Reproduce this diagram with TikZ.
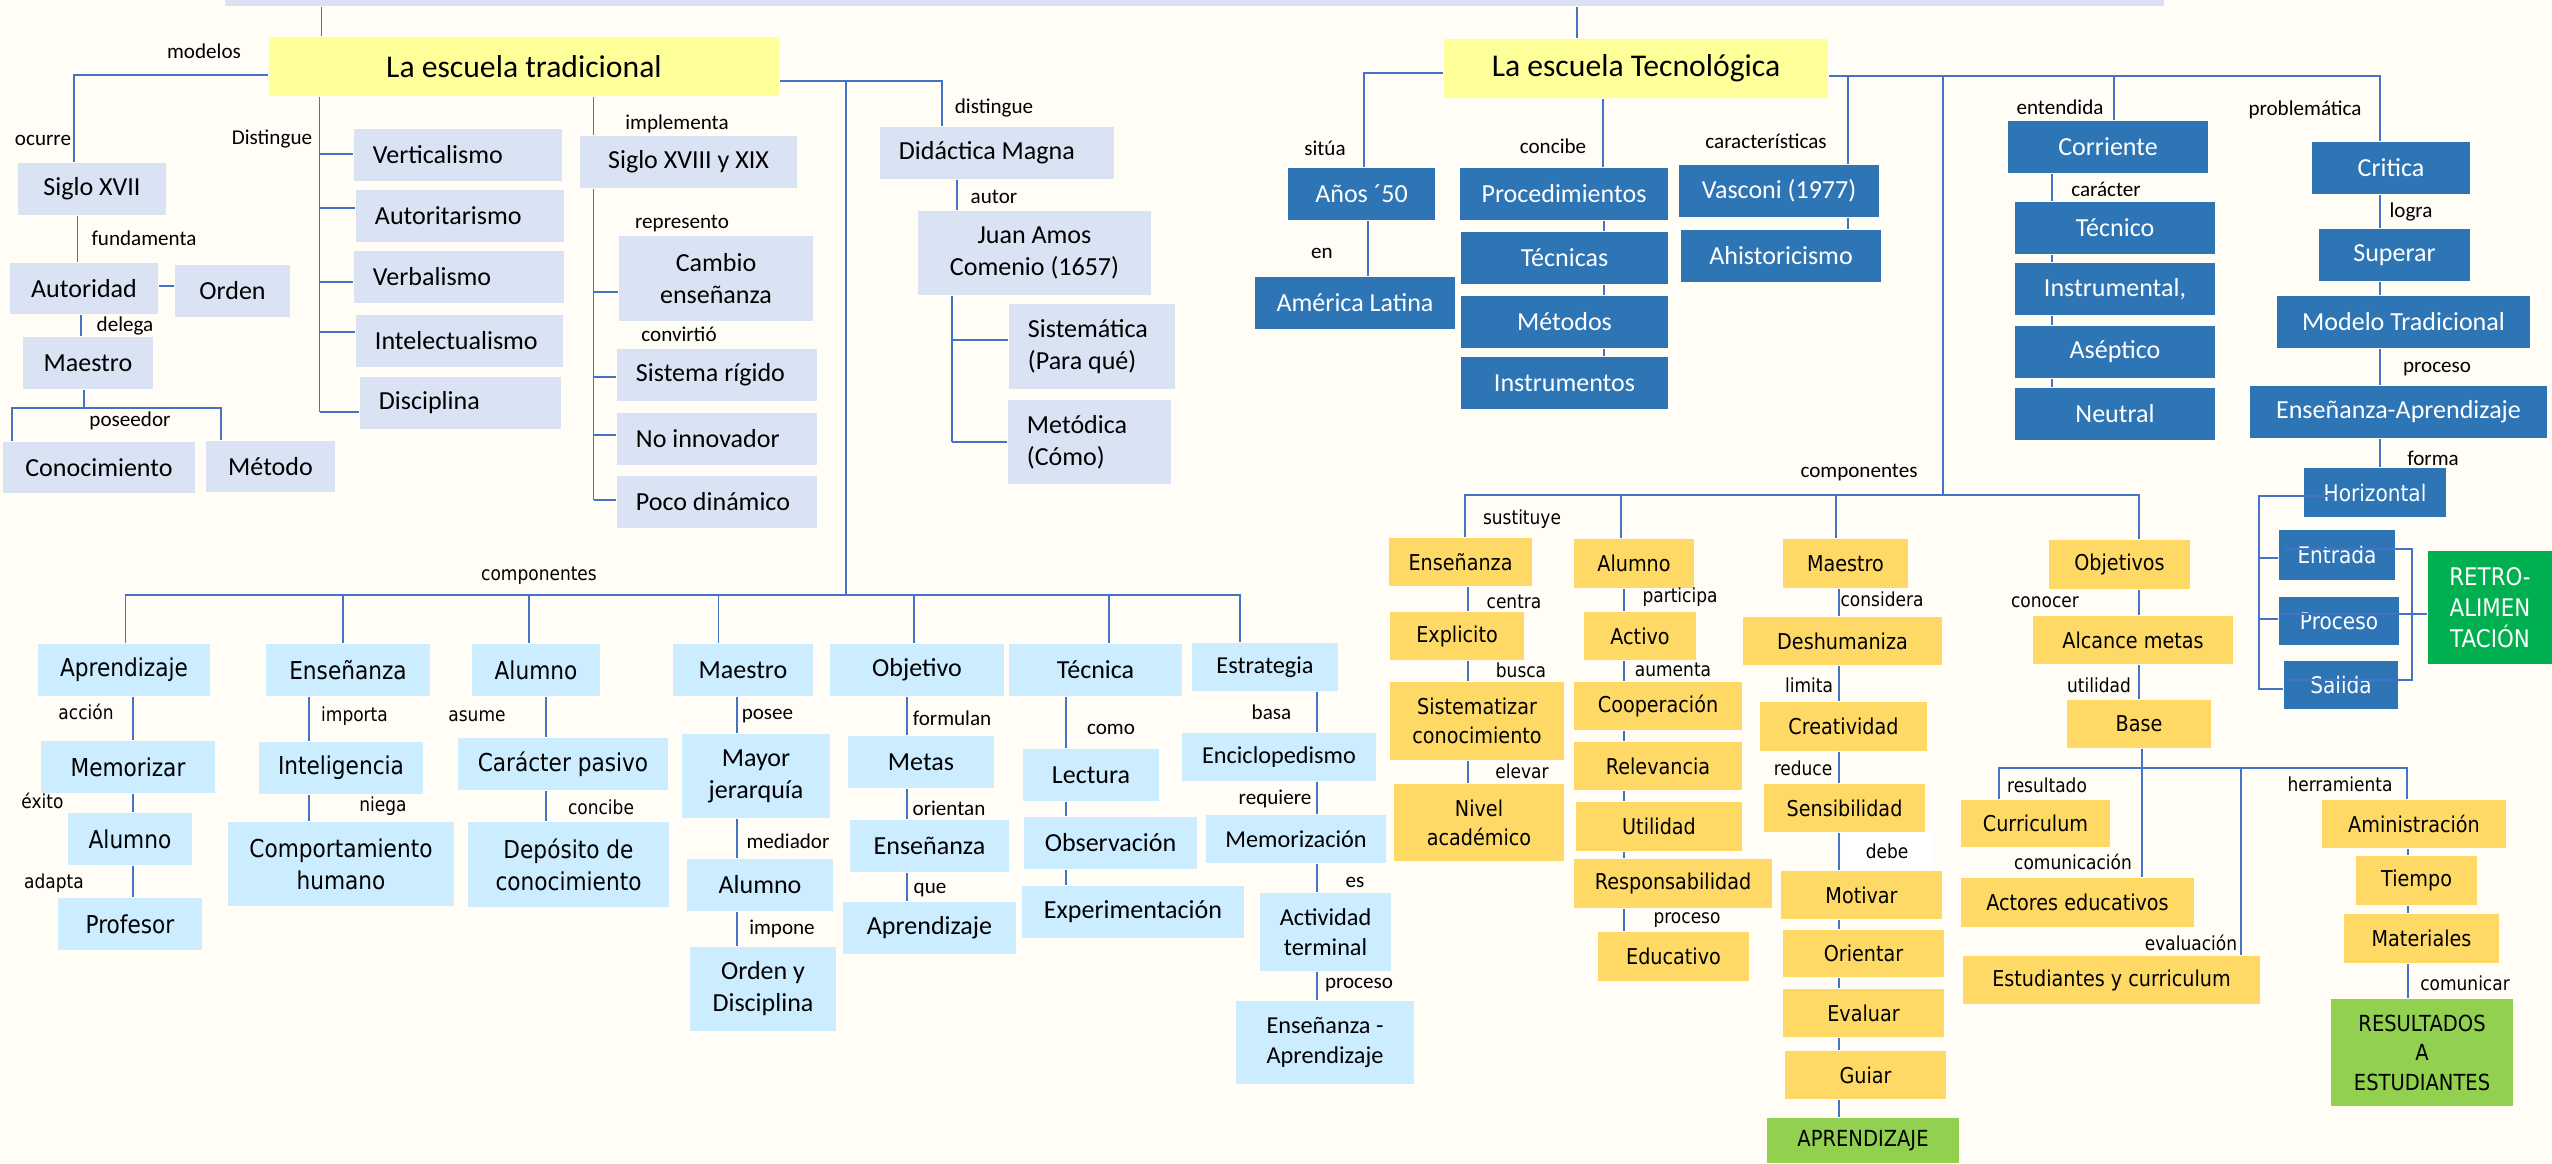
\documentclass[tikz,border=0pt]{standalone}
\usepackage{fontspec}
\newfontfamily\fcal{Carlito}
\newfontfamily\fver[FakeStretch=0.88]{DejaVu Sans}

\definecolor{bgcol}{RGB}{255,253,246}
\definecolor{linecol}{RGB}{68,114,196}
\definecolor{tradfill}{RGB}{218,227,243}
\definecolor{titfill}{RGB}{255,255,153}
\definecolor{tecfill}{RGB}{46,117,182}
\definecolor{compfill}{RGB}{204,236,255}
\definecolor{yelfill}{RGB}{255,217,102}
\definecolor{grnfill}{RGB}{146,208,80}
\definecolor{retrofill}{RGB}{0,176,80}

\tikzset{
  ln/.style={draw=linecol, line width=0.5pt},
  title/.style={fill=titfill, font=\fcal\fontsize{9}{11}\selectfont, minimum height=0.59cm, inner sep=0pt},
  tbox/.style={fill=tradfill, font=\fcal\fontsize{7.4}{9.1}\selectfont, minimum height=0.52cm, inner sep=0pt, align=center},
  tboxl/.style={tbox, inner xsep=0.19cm, align=flush left, text width=#1},
  cbox/.style={fill=compfill, font=\fver\fontsize{7}{9}\selectfont, minimum height=0.52cm, inner sep=0pt, align=center},
  cboxc/.style={cbox, font=\fcal\fontsize{7.4}{9.1}\selectfont},
  cboxe/.style={cbox, font=\fcal\fontsize{6.9}{8.6}\selectfont, minimum height=0.48cm},
  bbox/.style={fill=tecfill, text=white, font=\fcal\fontsize{7.4}{9}\selectfont, minimum height=0.52cm, inner sep=0pt},
  bboxv/.style={bbox, font=\fver\fontsize{6.5}{8}\selectfont},
  ybox/.style={fill=yelfill, font=\fver\fontsize{6.2}{8.2}\selectfont, minimum height=0.48cm, inner sep=0pt, align=center},
  gbox/.style={fill=grnfill, font=\fver\fontsize{6.3}{8.4}\selectfont, inner sep=0pt, align=center},
  labc/.style={font=\fcal\fontsize{6}{7}\selectfont, inner sep=0.5pt},
  labv/.style={font=\fver\fontsize{5.5}{6.5}\selectfont, inner sep=0.5pt}
}

\begin{document}
\begin{tikzpicture}[x=0.01cm, y=-0.01cm]
\fill[bgcol] (0,0) rectangle (2552,1163);
\useasboundingbox (0,0) rectangle (2552,1163);

% titles
\node[fill=tradfill, inner sep=0pt, minimum width=19.37cm, minimum height=0.06cm] (top) at (1194.5,3) {};
\node[title, minimum width=5.10cm] (trad) at (524,66.5) {La escuela tradicional};
\node[title, minimum width=3.84cm] (tecno) at (1636,68.5) {La escuela Tecnológica};

% escuela tradicional
\node[tbox, minimum width=1.48cm] (sxvii) at (92,189) {Siglo XVII};
\node[tbox, minimum width=1.48cm, minimum height=0.51cm] (autoridad) at (84,288.5) {Autoridad};
\node[tbox, minimum width=1.15cm] (orden) at (232.5,291) {Orden};
\node[tbox, minimum width=1.30cm] (maestro) at (88,363) {Maestro};
\node[tbox, minimum width=1.92cm, minimum height=0.51cm] (conoc) at (99,467.5) {Conocimiento};
\node[tbox, minimum width=1.29cm, minimum height=0.51cm] (metodo) at (270.5,466.5) {Método};
\node[tboxl=1.70cm] (vertic) at (458,155) {Verticalismo};
\node[tboxl=1.70cm] (autorit) at (460,216) {Autoritarismo};
\node[tboxl=1.72cm] (verbal) at (459,277) {Verbalismo};
\node[tboxl=1.69cm] (intelec) at (459.5,341) {Intelectualismo};
\node[tboxl=1.63cm] (discip) at (460.5,403) {Disciplina};
\node[tbox, minimum width=2.17cm] (sxviii) at (688.5,162) {Siglo XVIII y XIX};
\node[tbox, minimum width=1.94cm, minimum height=0.85cm] (cambio) at (716,278.5) {Cambio\\enseñanza};
\node[tboxl=1.62cm] (rigido) at (717,375) {Sistema rígido};
\node[tboxl=1.62cm] (noinnov) at (717,439) {No innovador};
\node[tboxl=1.62cm] (poco) at (717,502) {Poco dinámico};
\node[tboxl=1.96cm] (didac) at (997,153) {Didáctica Magna};
\node[tbox, minimum width=2.33cm, minimum height=0.84cm] (comenio) at (1034.5,253) {Juan Amos\\Comenio (1657)};
\node[tboxl=1.28cm, minimum height=0.85cm] (sistem) at (1092,346.5) {Sistemática\\(Para qué)};
\node[tboxl=1.25cm, minimum height=0.84cm] (metod) at (1089.5,442) {Metódica\\(Cómo)};

\node[labc] (lmodelos) at (204,51) {modelos};
\node[labc] (locurre) at (43,140) {ocurre};
\node[labc] (lfund) at (144,238) {fundamenta};
\node[labc] (ldelega) at (125,326) {delega};
\node[labc] (lposeedor) at (130,421) {poseedor};
\node[labc] (ldist) at (272,139) {Distingue};
\node[labc] (limpl) at (677,124) {implementa};
\node[labc] (lrepr) at (682,224) {represento};
\node[labc] (lconv) at (679,334) {convirtió};
\node[labc] (ldist2) at (994,108) {distingue};
\node[labc] (lautor) at (994,197) {autor};

\draw[ln] (top.south -| 321.5,0) -- (trad.north -| 321.5,0);
\draw[ln] (trad.west |- 0,75) -| (sxvii.north -| 74,0);
\draw[ln] (sxvii.south -| 77.5,0) -- (autoridad.north -| 77.5,0);
\draw[ln] (autoridad.east |- 0,286) -- (orden.west |- 0,286);
\draw[ln] (autoridad.south -| 81,0) -- (maestro.north -| 81,0);
\coordinate (jpos) at (84,408);
\draw[ln] (maestro.south -| jpos) -- (jpos);
\draw[ln] (conoc.north -| 12,0) |- (221,408) -- (metodo.north -| 221,0);
\draw[ln] (trad.south -| 319.5,0) -- (319.5,412);
\foreach \n/\y in {vertic/154, autorit/208, verbal/282, intelec/332, discip/412}
  \draw[ln] (319.5,\y) -- (\n.west |- 0,\y);
\draw[ln] (trad.south -| 593.5,0) -- (sxviii.north -| 593.5,0);
\draw[ln] (sxviii.south -| 593.5,0) -- (593.5,500);
\foreach \n/\y in {cambio/292, rigido/377, noinnov/435, poco/500}
  \draw[ln] (593.5,\y) -- (\n.west |- 0,\y);
\draw[ln] (trad.east |- 0,81) -| (didac.north -| 942,0);
\coordinate (jtrad) at (846,81);
\coordinate (jcomp) at (846,595);
\draw[ln] (jtrad) -- (jcomp);
\draw[ln] (didac.south -| 957,0) -- (comenio.north -| 957,0);
\draw[ln] (comenio.south -| 952,0) -- (952,442);
\foreach \n/\y in {sistem/340, metod/442}
  \draw[ln] (952,\y) -- (\n.west |- 0,\y);

% componentes (tradicional)
\node[cbox, minimum width=1.72cm] (aprend) at (124,670) {Aprendizaje};
\node[cbox, minimum width=1.74cm] (memor) at (128,767) {Memorizar};
\node[cbox, minimum width=1.24cm] (alumA) at (130,839) {Alumno};
\node[cbox, minimum width=1.44cm] (profes) at (130,924) {Profesor};
\node[cbox, minimum width=1.64cm] (ensen) at (348,670) {Enseñanza};
\node[cbox, minimum width=1.64cm] (intelig) at (341,768) {Inteligencia};
\node[cbox, minimum width=2.26cm, minimum height=0.84cm] (comport) at (341,864) {Comportamiento\\humano};
\node[cbox, minimum width=1.28cm] (alumB) at (536,670) {Alumno};
\node[cbox, minimum width=2.10cm] (pasivo) at (563,764) {Carácter pasivo};
\node[cbox, minimum width=2.01cm, minimum height=0.85cm] (deposito) at (568.5,864.5) {Depósito de\\conocimiento};
\node[cboxc, minimum width=1.40cm] (maesB) at (743,670) {Maestro};
\node[cboxc, minimum width=1.48cm, minimum height=0.84cm] (mayor) at (756,776) {Mayor\\jerarquía};
\node[cboxc, minimum width=1.46cm] (alumC) at (760,885) {Alumno};
\node[cboxc, minimum width=1.46cm, minimum height=0.84cm] (ordend) at (763,989) {Orden y\\Disciplina};
\node[cboxc, minimum width=1.74cm] (objet) at (917,670) {Objetivo};
\node[cboxc, minimum width=1.46cm] (metas) at (921,762) {Metas};
\node[cboxc, minimum width=1.59cm] (ensenB) at (929.5,846) {Enseñanza};
\node[cboxc, minimum width=1.73cm] (aprendB) at (929.5,927.5) {Aprendizaje};
\node[cboxc, minimum width=1.73cm] (tecn) at (1095.5,670) {Técnica};
\node[cboxc, minimum width=1.36cm] (lectura) at (1091,775) {Lectura};
\node[cboxc, minimum width=1.73cm] (observ) at (1110.5,843) {Observación};
\node[cboxc, minimum width=2.22cm] (experim) at (1133,911.5) {Experimentación};
\node[cboxe, minimum width=1.46cm] (estrat) at (1265,667) {Estrategia};
\node[cboxe, minimum width=1.94cm] (encicl) at (1279,757) {Enciclopedismo};
\node[cboxe, minimum width=1.80cm] (memoriz) at (1296,839) {Memorización};
\node[cboxe, minimum width=1.31cm, minimum height=0.78cm] (activ) at (1325.5,932) {Actividad\\terminal};
\node[cboxe, minimum width=1.78cm, minimum height=0.83cm] (ensapr) at (1325,1042.5) {Enseñanza -\\Aprendizaje};

\node[labv] (lcomp) at (539,576) {componentes};
\node[labv] (laccion) at (86,712) {acción};
\node[labv] (lexito) at (42.5,801) {éxito};
\node[labv] (ladapta) at (54,883) {adapta};
\node[labv] (limporta) at (354.5,716.5) {importa};
\node[labv] (lniega) at (383,806) {niega};
\node[labv] (lasume) at (477,716) {asume};
\node[labv] (lconcibe) at (601,807) {concibe};
\node[labc] (lposee) at (767.5,716.5) {posee};
\node[labc] (lmediador) at (788,841) {mediador};
\node[labc] (limpone) at (782,929) {impone};
\node[labc] (lformulan) at (952,718) {formulan};
\node[labc] (lorientan) at (949,808) {orientan};
\node[labc] (lque) at (930,890) {que};
\node[labc] (lcomo) at (1111,729) {como};
\node[labc] (lbasa) at (1271.5,712) {basa};
\node[labc] (lrequiere) at (1275,799) {requiere};
\node[labc] (les) at (1355,882) {es};
\node[labc] (lproceso) at (1359,985.5) {proceso};

\draw[ln] (aprend.north -| 125.5,0) -- (125.5,595) -- (1240,595) -- (estrat.north -| 1240,0);
\foreach \n/\x in {ensen/343, alumB/529, maesB/718.5, objet/914, tecn/1109}
  \draw[ln] (\x,595) -- (\n.north -| \x,0);
\foreach \a/\b/\x in {aprend/memor/133, memor/alumA/133, alumA/profes/133,
    ensen/intelig/309, intelig/comport/309, alumB/pasivo/546, pasivo/deposito/546,
    maesB/mayor/737, mayor/alumC/737, alumC/ordend/737,
    objet/metas/907, metas/ensenB/907, ensenB/aprendB/907,
    tecn/lectura/1066, lectura/observ/1066, observ/experim/1066,
    estrat/encicl/1317, encicl/memoriz/1317, memoriz/activ/1317, activ/ensapr/1317}
  \draw[ln] (\a.south -| \x,0) -- (\b.north -| \x,0);

% escuela tecnologica
\node[bbox, minimum width=1.47cm] (anos) at (1361.5,194) {Años ´50};
\node[bbox, minimum width=2.00cm] (amer) at (1355,303) {América Latina};
\node[bbox, minimum width=2.08cm] (proced) at (1564,194) {Procedimientos};
\node[bbox, minimum width=2.07cm] (tecnicas) at (1564.5,258) {Técnicas};
\node[bbox, minimum width=2.07cm] (metodos) at (1564.5,322) {Métodos};
\node[bbox, minimum width=2.07cm] (instrum) at (1564.5,383) {Instrumentos};
\node[bbox, minimum width=2.00cm] (vasconi) at (1779,191) {Vasconi (1977)};
\node[bbox, minimum width=2.00cm] (ahist) at (1781,256) {Ahistoricismo};
\node[bbox, minimum width=2.00cm] (corriente) at (2108,147) {Corriente};
\node[bbox, minimum width=2.00cm] (tecnico) at (2115,228) {Técnico};
\node[bbox, minimum width=2.00cm] (instrumental) at (2115,289) {Instrumental,};
\node[bbox, minimum width=2.00cm] (aseptico) at (2115,352) {Aséptico};
\node[bbox, minimum width=2.00cm] (neutral) at (2115,414) {Neutral};
\node[bbox, minimum width=1.58cm] (critica) at (2391,168) {Critica};
\node[bbox, minimum width=1.51cm] (superar) at (2394.5,255) {Superar};
\node[bbox, minimum width=2.53cm] (modelo) at (2403.5,322) {Modelo Tradicional};
\node[bbox, minimum width=2.97cm] (ensapr2) at (2398.5,412) {Enseñanza-Aprendizaje};
\node[bboxv, minimum width=1.42cm, minimum height=0.49cm] (horiz) at (2375,492.5) {Horizontal};
\node[bboxv, minimum width=1.16cm, minimum height=0.50cm] (entrada) at (2337,555) {Entrada};
\node[bboxv, minimum width=1.20cm, minimum height=0.48cm] (procesoB) at (2339,621) {Proceso};
\node[bboxv, minimum width=1.14cm, minimum height=0.48cm] (salida) at (2341,685) {Salida};
\node[gbox, fill=retrofill, text=white, font=\fver\fontsize{6.9}{8.8}\selectfont, minimum width=1.24cm, minimum height=1.13cm] (retro) at (2490,607.5) {RETRO-\\ALIMEN\\TACIÓN};

\node[labc] (lsitua) at (1325,148) {sitúa};
\node[labc] (len) at (1322,253) {en};
\node[labc] (lconcibe2) at (1553,146) {concibe};
\node[labc] (lcaract) at (1766,141) {características};
\node[labc] (lentend) at (2060,107) {entendida};
\node[labc] (lcaracter) at (2106,189) {carácter};
\node[labc] (lproblem) at (2305,110) {problemática};
\node[labc] (llogra) at (2411,212) {logra};
\node[labc] (lproceso2) at (2437,369) {proceso};
\node[labc] (lforma) at (2433,458) {forma};
\node[labc] (lcomp2) at (1859,473) {componentes};

\draw[ln] (top.south -| 1577,0) -- (tecno.north -| 1577,0);
\draw[ln] (tecno.west |- 0,73) -| (anos.north -| 1364,0);
\draw[ln] (anos.south -| 1368,0) -- (amer.north -| 1368,0);
\draw[ln] (tecno.south -| 1603,0) -- (proced.north -| 1603,0);
\foreach \a/\b in {proced/tecnicas, tecnicas/metodos, metodos/instrum}
  \draw[ln] (\a.south -| 1604,0) -- (\b.north -| 1604,0);
\draw[ln] (tecno.east |- 0,76) -| (critica.north -| 2380,0);
\draw[ln] (1848,76) -- (vasconi.north -| 1848,0);
\draw[ln] (vasconi.south -| 1848,0) -- (ahist.north -| 1848,0);
\draw[ln] (2114,76) -- (corriente.north -| 2114,0);
\foreach \a/\b in {corriente/tecnico, tecnico/instrumental, instrumental/aseptico, aseptico/neutral}
  \draw[ln] (\a.south -| 2052,0) -- (\b.north -| 2052,0);
\foreach \a/\b in {critica/superar, superar/modelo, modelo/ensapr2, ensapr2/horiz}
  \draw[ln] (\a.south -| 2380,0) -- (\b.north -| 2380,0);
% corchetes de Horizontal
\draw[ln] (2334,496) -- (2259,496) -- (2259,689) -- (salida.west |- 0,689);
\draw[ln] (2259,558) -- (entrada.west |- 0,558);
\draw[ln] (2259,619) -- (procesoB.west |- 0,619);
\draw[ln] (2285,549) -- (2412,549) -- (2412,680) -- (2289,680);
\draw[ln] (2279,614) -- (retro.west |- 0,614);

% componentes (tecnologica)
\node[ybox, minimum width=1.43cm] (ensY) at (1460.5,562) {Enseñanza};
\node[ybox, minimum width=1.34cm] (explic) at (1457,636) {Explicito};
\node[ybox, minimum width=1.74cm, minimum height=0.78cm] (sistemat) at (1477,721) {Sistematizar\\conocimiento};
\node[ybox, minimum width=1.70cm, minimum height=0.77cm] (nivel) at (1479,822.5) {Nivel\\académico};
\node[ybox, minimum width=1.20cm, minimum height=0.49cm] (alumY) at (1634,563.5) {Alumno};
\node[ybox, minimum width=1.12cm] (activo) at (1640,636) {Activo};
\node[ybox, minimum width=1.68cm] (coop) at (1658,706) {Cooperación};
\node[ybox, minimum width=1.68cm] (relev) at (1658,766) {Relevancia};
\node[ybox, minimum width=1.66cm, minimum height=0.49cm] (utilid) at (1659,826.5) {Utilidad};
\node[ybox, minimum width=1.98cm, minimum height=0.49cm] (respons) at (1673,883.5) {Responsabilidad};
\node[ybox, minimum width=1.51cm, minimum height=0.49cm] (educ) at (1673.5,956.5) {Educativo};
\node[ybox, minimum width=1.25cm, minimum height=0.49cm] (maesY) at (1845.5,563.5) {Maestro};
\node[ybox, minimum width=1.99cm] (deshum) at (1842.5,641) {Deshumaniza};
\node[ybox, minimum width=1.67cm, minimum height=0.49cm] (creat) at (1843.5,726.5) {Creatividad};
\node[ybox, minimum width=1.61cm] (sensib) at (1844.5,808) {Sensibilidad};
\node[ybox, minimum width=1.61cm] (motivar) at (1861.5,895) {Motivar};
\node[ybox, minimum width=1.61cm, minimum height=0.47cm] (orient) at (1863.5,953.5) {Orientar};
\node[ybox, minimum width=1.61cm] (evaluar) at (1863.5,1013) {Evaluar};
\node[ybox, minimum width=1.61cm] (guiar) at (1865.5,1075) {Guiar};
\node[gbox, minimum width=1.92cm, minimum height=0.45cm] (aprendiz) at (1863,1140.5) {APRENDIZAJE};
\node[ybox, minimum width=1.41cm, minimum height=0.49cm] (objY) at (2119.5,564.5) {Objetivos};
\node[ybox, minimum width=2.00cm] (alcance) at (2133,640) {Alcance metas};
\node[ybox, minimum width=1.44cm] (base) at (2139,724) {Base};
\node[ybox, minimum width=1.49cm, minimum height=0.47cm] (curric) at (2035.5,823.5) {Curriculum};
\node[ybox, minimum width=2.33cm, minimum height=0.49cm] (actores) at (2077.5,902.5) {Actores educativos};
\node[ybox, minimum width=2.97cm] (estud) at (2111.5,980) {Estudiantes y curriculum};
\node[ybox, minimum width=1.84cm] (aminis) at (2414,824) {Aministración};
\node[ybox, minimum width=1.21cm, minimum height=0.49cm] (tiempo) at (2416.5,880.5) {Tiempo};
\node[ybox, minimum width=1.55cm, minimum height=0.49cm] (materiales) at (2421.5,938.5) {Materiales};
\node[gbox, minimum width=1.82cm, minimum height=1.07cm] (result) at (2422,1052.5) {RESULTADOS\\A\\ESTUDIANTES};

\node[labv] (lsustituye) at (1522,519) {sustituye};
\node[labv] (lcentra) at (1514,602) {centra};
\node[labv] (lbusca) at (1521,670) {busca};
\node[labv] (lelevar) at (1522,771) {elevar};
\node[labv] (lparticipa) at (1680,597) {participa};
\node[labv] (laumenta) at (1673,670) {aumenta};
\node[labv] (lproceso3) at (1687,920) {proceso};
\node[labv] (lconsidera) at (1882,599) {considera};
\node[labv] (llimita) at (1809,685) {limita};
\node[labv] (lreduce) at (1803,768) {reduce};
\node[labv] (lconocer) at (2045,602) {conocer};
\node[labv] (lutilidad) at (2099,685) {utilidad};
\node[labv] (lresultado) at (2047,785) {resultado};
\node[labv] (lcomunic) at (2073,862) {comunicación};
\node[labv] (levalua) at (2191,943) {evaluación};
\node[labv] (lherram) at (2340,784) {herramienta};
\node[labv] (lcomunicar) at (2465,983) {comunicar};

\draw[ln] (1943,76) -- (1943,495);
\draw[ln] (ensY.north -| 1465,0) -- (1465,495) -- (2139,495) -- (objY.north -| 2139,0);
\foreach \n/\x in {alumY/1621, maesY/1836}
  \draw[ln] (\x,495) -- (\n.north -| \x,0);
\foreach \a/\b/\x in {ensY/explic/1468, explic/sistemat/1468, sistemat/nivel/1468,
    alumY/activo/1624, activo/coop/1624, coop/relev/1624, relev/utilid/1624,
    utilid/respons/1624, respons/educ/1624,
    maesY/deshum/1839, deshum/creat/1839, creat/sensib/1839, sensib/motivar/1839,
    motivar/orient/1839, orient/evaluar/1839, evaluar/guiar/1839, guiar/aprendiz/1839,
    objY/alcance/2139, alcance/base/2139,
    aminis/tiempo/2408, tiempo/materiales/2408, materiales/result/2408}
  \draw[ln] (\a.south -| \x,0) -- (\b.north -| \x,0);
\draw[ln] (base.south -| 2142,0) -- (actores.north -| 2142,0);
\draw[ln] (curric.north -| 1999,0) |- (2407,768) -- (aminis.north -| 2407,0);
\draw[ln] (2241,768) -- (estud.north -| 2241,0);
\node[labv, fill=white, minimum width=0.92cm, minimum height=0.39cm] (ldebe) at (1887,851.5) {debe};

\end{tikzpicture}
\end{document}
